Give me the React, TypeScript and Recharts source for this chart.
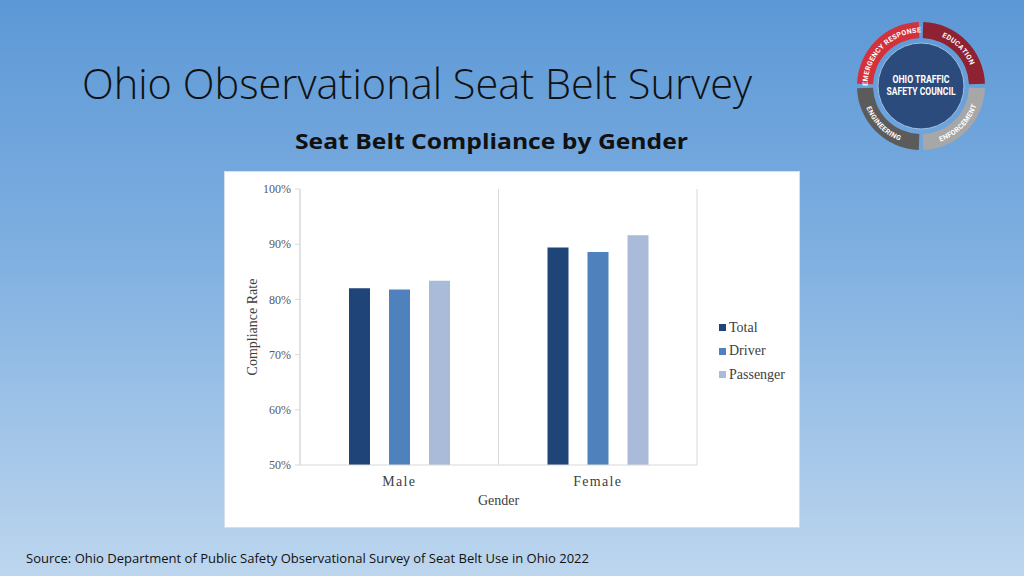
import React from 'react';
import { BarChart, Bar, XAxis, YAxis, CartesianGrid, Label } from 'recharts';

const categories = ['Male', 'Female'];
const totalRates = [82.0, 89.4];
const driverRates = [81.8, 88.6];
const passengerRates = [83.4, 91.6];
const yTicks = [50, 60, 70, 80, 90, 100];
const seriesNames = ['Total', 'Driver', 'Passenger'];
const seriesKeys = ['total', 'driver', 'passenger'];
const seriesColors = ['#1f4578', '#4f81bd', '#a9bbd8'];

const data = categories.map((c, i) => ({
  gender: c,
  total: totalRates[i],
  driver: driverRates[i],
  passenger: passengerRates[i],
}));

const serif = "'Liberation Serif', 'Times New Roman', serif";
const sans = "'Open Sans', 'Noto Sans', sans-serif";

function polar(cx: number, cy: number, r: number, deg: number) {
  const a = (deg * Math.PI) / 180;
  return [cx + r * Math.cos(a), cy + r * Math.sin(a)];
}

function sector(cx: number, cy: number, r1: number, r2: number, a0: number, a1: number) {
  const [x0, y0] = polar(cx, cy, r2, a0);
  const [x1, y1] = polar(cx, cy, r2, a1);
  const [x2, y2] = polar(cx, cy, r1, a1);
  const [x3, y3] = polar(cx, cy, r1, a0);
  return `M${x0},${y0} A${r2},${r2} 0 0 1 ${x1},${y1} L${x2},${y2} A${r1},${r1} 0 0 0 ${x3},${y3} Z`;
}

const EM: Record<string, number> = {
  I: 0.29, M: 0.87, ' ': 0.26, C: 0.65, N: 0.71, G: 0.68, O: 0.69, R: 0.63, E: 0.57,
  T: 0.61, A: 0.67, S: 0.61, P: 0.63, Y: 0.61, F: 0.55, D: 0.66, U: 0.65,
};

function ArcText({ cx, cy, r, center, text, top, size }: any) {
  const spacing = 0.35;
  const widths = text.split('').map((ch: string) => (EM[ch] ?? 0.63) * size + spacing);
  const total = widths.reduce((a: number, b: number) => a + b, 0);
  const dir = top ? 1 : -1;
  let acc = -total / 2;
  return (
    <g>
      {text.split('').map((ch: string, i: number) => {
        const mid = acc + widths[i] / 2;
        acc += widths[i];
        if (ch === ' ') return null;
        const theta = center + dir * (mid / r) * (180 / Math.PI);
        const [x, y] = polar(cx, cy, r, theta);
        const rot = top ? theta + 90 : theta - 90;
        return (
          <text
            key={i}
            x={x}
            y={y}
            textAnchor="middle"
            transform={`rotate(${rot}, ${x}, ${y})`}
            fontFamily="Roboto, sans-serif"
            fontWeight={700}
            fontSize={size}
            fill="#ffffff"
          >
            {ch}
          </text>
        );
      })}
    </g>
  );
}

function Logo() {
  const cx = 921;
  const cy = 86;
  const segs = [
    { a0: 182, a1: 268, fill: '#d3313b', text: 'EMERGENCY RESPONSE', c: 225, top: true },
    { a0: 272, a1: 358, fill: '#8e2231', text: 'EDUCATION', c: 315, top: true },
    { a0: 2, a1: 88, fill: '#a7a7a7', text: 'ENFORCEMENT', c: 45, top: false },
    { a0: 92, a1: 178, fill: '#5b5b5b', text: 'ENGINEERING', c: 135, top: false },
  ];
  return (
    <g>
      {segs.map((s, i) => (
        <path key={i} d={sector(cx, cy, 48, 64, s.a0, s.a1)} fill={s.fill} />
      ))}
      {segs.map((s, i) => (
        <ArcText key={i} cx={cx} cy={cy} r={s.top ? 53.5 : 58.8} center={s.c} text={s.text} top={s.top} size={7} />
      ))}
      <circle cx={cx} cy={cy} r={43} fill="#2c4b7d" stroke="#9fbde0" strokeWidth={1} />
      <text x={cx} y={83} textAnchor="middle" fontFamily="Roboto, sans-serif" fontWeight={700} fontSize={10} fill="#ffffff" textLength={57} lengthAdjust="spacingAndGlyphs">
        OHIO TRAFFIC
      </text>
      <text x={cx} y={95} textAnchor="middle" fontFamily="Roboto, sans-serif" fontWeight={700} fontSize={10} fill="#ffffff" textLength={69} lengthAdjust="spacingAndGlyphs">
        SAFETY COUNCIL
      </text>
    </g>
  );
}

export default function App() {
  return (
    <div
      style={{
        position: 'absolute',
        left: 0,
        top: 0,
        width: 1024,
        height: 576,
        overflow: 'hidden',
        background: 'linear-gradient(180deg, #5c98d6 0%, #80b0e1 45%, #bdd6ee 100%)',
      }}
    >
      <svg width={1024} height={576} style={{ position: 'absolute', left: 0, top: 0 }}>
        <text x={82} y={99} fontFamily={sans} fontWeight={300} fontSize={42} fill="#111111" textLength={670} lengthAdjust="spacingAndGlyphs">
          Ohio Observational Seat Belt Survey
        </text>
        <text x={295} y={149} fontFamily={sans} fontWeight={700} fontSize={22} fill="#111111" textLength={393} lengthAdjust="spacingAndGlyphs">
          Seat Belt Compliance by Gender
        </text>
        <text x={26} y={563} fontFamily={sans} fontSize={13} fill="#111111" textLength={563} lengthAdjust="spacingAndGlyphs">
          Source: Ohio Department of Public Safety Observational Survey of Seat Belt Use in Ohio 2022
        </text>
        <Logo />
      </svg>
      <div
        style={{
          position: 'absolute',
          left: 225,
          top: 172,
          width: 574,
          height: 355,
          background: '#ffffff',
          outline: '1px solid #d3dfec',
        }}
      >
        <BarChart
          width={574}
          height={355}
          data={data}
          margin={{ top: 17, right: 102, bottom: 17, left: 0 }}
          barSize={21}
          barGap={19}
        >
          <CartesianGrid
            horizontal={false}
            stroke="#d9d9d9"
            verticalCoordinatesGenerator={({ offset }: any) => [
              offset.left,
              offset.left + offset.width / 2,
              offset.left + offset.width,
            ]}
          />
          <XAxis
            dataKey="gender"
            height={45}
            tickLine={false}
            axisLine={{ stroke: '#d9d9d9' }}
            tickMargin={5}
            tick={{ fontFamily: serif, fontSize: 14, fill: '#404040', letterSpacing: 1.3 }}
          >
            <Label value="Gender" position="insideBottom" offset={5} style={{ fontFamily: serif, fontSize: 14, fill: '#404040' }} />
          </XAxis>
          <YAxis
            width={75}
            domain={[50, 100]}
            ticks={yTicks}
            tickFormatter={(v: number) => `${v}%`}
            tickSize={5}
            tickMargin={4}
            axisLine={{ stroke: '#d9d9d9' }}
            tickLine={{ stroke: '#d9d9d9' }}
            tick={{ fontFamily: serif, fontSize: 12, fill: '#595959' }}
          >
            <Label value="Compliance Rate" angle={-90} position="center" dx={-10} style={{ fontFamily: serif, fontSize: 14, fill: '#404040', textAnchor: 'middle' }} />
          </YAxis>
          {seriesKeys.map((k, i) => (
            <Bar key={k} dataKey={k} name={seriesNames[i]} fill={seriesColors[i]} isAnimationActive={false} />
          ))}
        </BarChart>
        <div style={{ position: 'absolute', left: 494, top: 144 }}>
          {seriesNames.map((n, i) => (
            <div key={n} style={{ display: 'flex', alignItems: 'center', height: 23.5 }}>
              <div style={{ width: 7, height: 7, background: seriesColors[i], marginRight: 3 }} />
              <span style={{ fontFamily: serif, fontSize: 14, color: '#404040', lineHeight: '16px' }}>{n}</span>
            </div>
          ))}
        </div>
      </div>
    </div>
  );
}
